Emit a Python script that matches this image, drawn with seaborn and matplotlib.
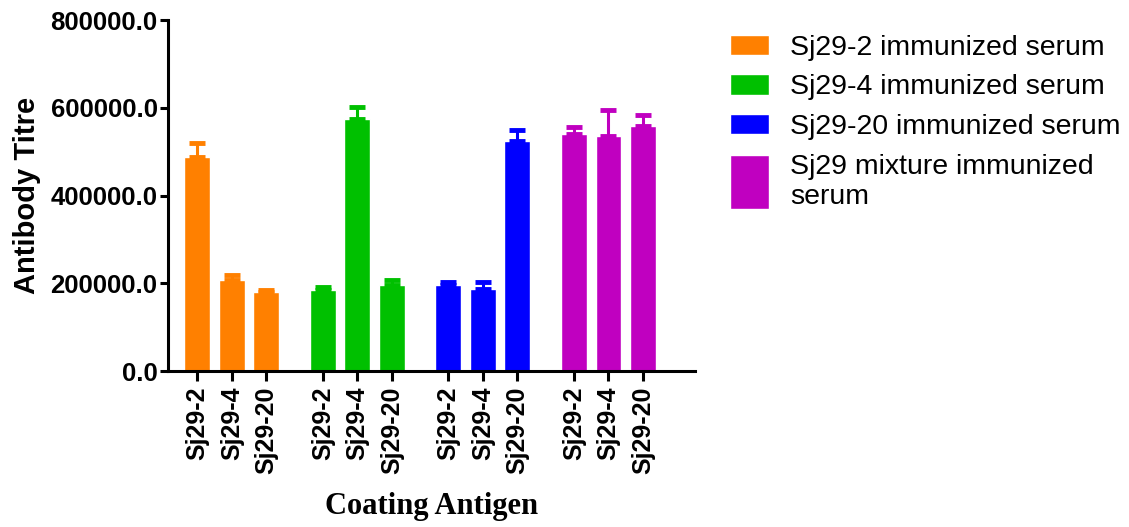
import numpy as np
import pandas as pd
import matplotlib
matplotlib.use("Agg")
import matplotlib.pyplot as plt
import seaborn as sns
from matplotlib.patches import Patch, Rectangle
from matplotlib.legend_handler import HandlerPatch

antigens = ["Sj29-2", "Sj29-4", "Sj29-20"]
sera = ["Sj29-2 immunized serum", "Sj29-4 immunized serum",
        "Sj29-20 immunized serum", "Sj29 mixture immunized\nserum"]
colors = ["#FF8000", "#00C000", "#0000FF", "#C000C0"]

titre_sj29_2 = [487000, 207000, 181000]
titre_sj29_4 = [184000, 574000, 195000]
titre_sj29_20 = [195000, 188000, 525000]
titre_mix = [540000, 536000, 559000]

err_sj29_2 = [32000, 12000, 3000]
err_sj29_4 = [8000, 28000, 12000]
err_sj29_20 = [9000, 16000, 24000]
err_mix = [17000, 59000, 24000]

titres = [titre_sj29_2, titre_sj29_4, titre_sj29_20, titre_mix]
errs = [err_sj29_2, err_sj29_4, err_sj29_20, err_mix]

rows = []
for g, serum in enumerate(sera):
    for i, ag in enumerate(antigens):
        rows.append({"serum": serum, "antigen": ag, "pos": g * 3.64 + i,
                     "titre": titres[g][i], "err": errs[g][i]})
df = pd.DataFrame(rows)

sns.set_style("ticks")
plt.rcParams["font.family"] = ["Liberation Sans", "DejaVu Sans"]
plt.rcParams.update({"text.color": "black", "axes.labelcolor": "black",
                     "xtick.color": "black", "ytick.color": "black",
                     "axes.edgecolor": "black"})

fig = plt.figure(figsize=(11.29, 5.27), dpi=100)
ax = fig.add_axes([0.1488, 0.296, 0.4668, 0.666])

sns.barplot(data=df, x="pos", y="titre", hue="serum", hue_order=sera,
            palette=colors, native_scale=True, dodge=False, width=0.75,
            saturation=1, legend=False, ax=ax)

for g, serum in enumerate(sera):
    sub = df[df.serum == serum]
    ax.errorbar(sub.pos, sub.titre, yerr=[np.zeros(len(sub)), sub.err],
                fmt="none", ecolor=colors[g], elinewidth=2.2, capsize=5.5,
                capthick=3.5, zorder=3)

ax.set_xlim(-0.85, 14.43)
ax.set_ylim(0, 800000)
ax.set_yticks([0, 200000, 400000, 600000, 800000])
ax.set_yticklabels([f"{v:.1f}" for v in [0, 200000, 400000, 600000, 800000]],
                   fontsize=18.5, fontweight="bold")
ax.set_xticks(df.pos)
ax.set_xticklabels(df.antigen, rotation=90, fontsize=18, fontweight="bold")

for s in ["top", "right"]:
    ax.spines[s].set_visible(False)
for s in ["left", "bottom"]:
    ax.spines[s].set_linewidth(2.2)
ax.tick_params(axis="y", length=5.5, width=2.2, pad=2)
ax.tick_params(axis="x", length=7.5, width=2.2, pad=4)

ax.set_ylabel("Antibody Titre", fontsize=21, fontweight="bold", labelpad=7)
ax.set_xlabel("Coating Antigen", fontsize=22, fontweight="bold",
              family=["Liberation Serif", "DejaVu Serif"], labelpad=13)


def tall_patch(legend, orig_handle, xdescent, ydescent, width, height, fontsize):
    if "\n" in orig_handle.get_label():
        extra = 1.2 * fontsize
        return Rectangle((-xdescent, -ydescent - extra / 2), width,
                         height + extra)
    return Rectangle((-xdescent, -ydescent), width, height)


handles = [Patch(facecolor=c, label=s) for c, s in zip(colors, sera)]
fig.legend(handles=handles, loc="upper left", bbox_to_anchor=(0.624, 0.983),
           frameon=False, fontsize=20.5, handlelength=1.36, handleheight=0.72,
           handletextpad=0.76, labelspacing=0.48,
           handler_map={Patch: HandlerPatch(patch_func=tall_patch)})

fig.savefig("out.png", dpi=100)
